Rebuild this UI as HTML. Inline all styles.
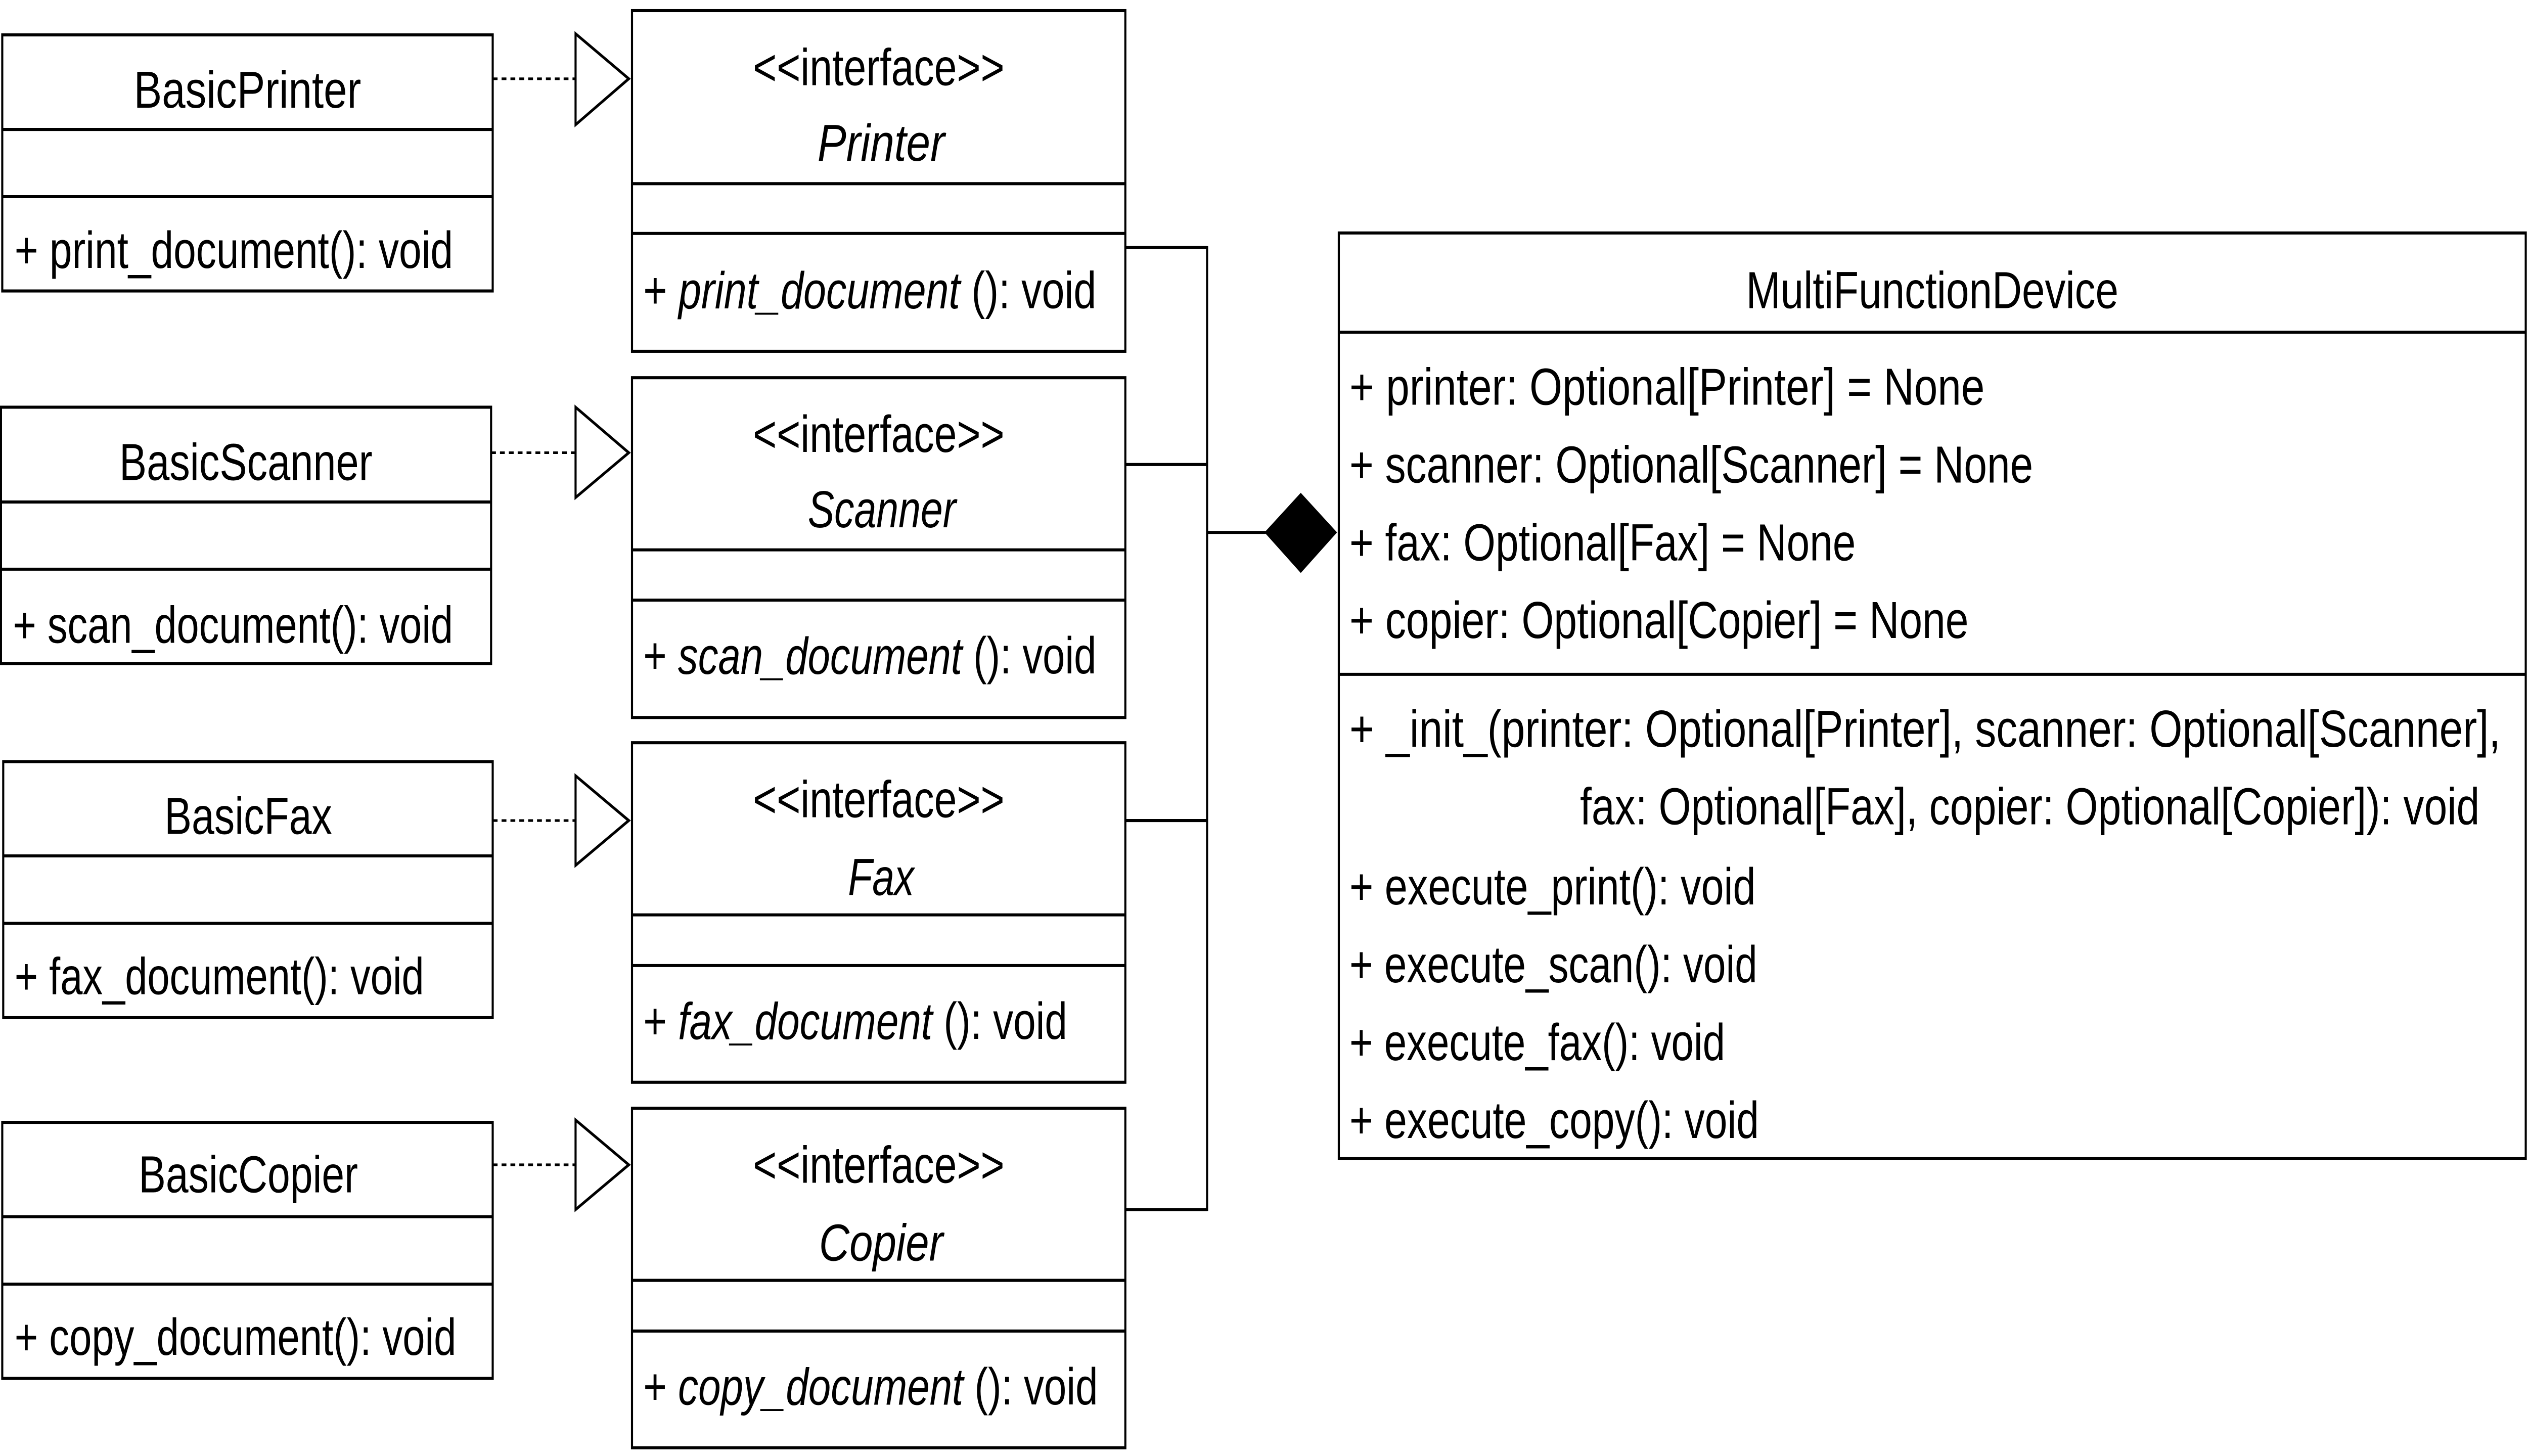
<!DOCTYPE html>
<html><head><meta charset="utf-8"><style>
html,body{margin:0;padding:0;background:#fff;width:100%;height:100%;overflow:hidden}
svg{display:block;position:fixed;left:0;top:0;width:100vw;height:100vh}
text{font-family:"Liberation Sans","Noto Sans CJK JP",sans-serif;font-size:22px;fill:#000}
.i{font-style:italic}
</style></head><body>
<svg viewBox="0 0 1568 617.5" preserveAspectRatio="none" xmlns="http://www.w3.org/2000/svg">
<g fill="#fff" stroke="#000" stroke-width="1.3">
<rect x="1.4" y="14.8" width="304.2" height="108.6"/>
<line x1="1.4" y1="54.9" x2="305.6" y2="54.9"/><line x1="1.4" y1="83.4" x2="305.6" y2="83.4"/>
<rect x="0.6" y="172.7" width="304" height="108.7"/>
<line x1="0.6" y1="212.9" x2="304.6" y2="212.9"/><line x1="0.6" y1="241.4" x2="304.6" y2="241.4"/>
<rect x="2" y="323" width="303.6" height="108.6"/>
<line x1="2" y1="363" x2="305.6" y2="363"/><line x1="2" y1="391.6" x2="305.6" y2="391.6"/>
<rect x="1.4" y="476" width="304.2" height="108.6"/>
<line x1="1.4" y1="516" x2="305.6" y2="516"/><line x1="1.4" y1="544.6" x2="305.6" y2="544.6"/>
<rect x="392" y="4.5" width="306" height="144.5"/>
<line x1="392" y1="77.9" x2="698" y2="77.9"/><line x1="392" y1="99" x2="698" y2="99"/>
<rect x="392" y="160.2" width="306" height="144.1"/>
<line x1="392" y1="233.2" x2="698" y2="233.2"/><line x1="392" y1="254.5" x2="698" y2="254.5"/>
<rect x="392" y="315" width="306" height="144"/>
<line x1="392" y1="388" x2="698" y2="388"/><line x1="392" y1="409.5" x2="698" y2="409.5"/>
<rect x="392" y="470" width="306" height="144"/>
<line x1="392" y1="543" x2="698" y2="543"/><line x1="392" y1="564.5" x2="698" y2="564.5"/>
<rect x="830.4" y="98.8" width="736.2" height="392.6"/>
<line x1="830.4" y1="140.9" x2="1566.6" y2="140.9"/><line x1="830.4" y1="286" x2="1566.6" y2="286"/>
<polygon points="357,14.3 390,33.4 357,52.9"/>
<polygon points="357,172.7 390,192 357,211"/>
<polygon points="357,329 390,348 357,367"/>
<polygon points="357,475 390,494 357,513"/>
</g>
<g stroke="#000" stroke-width="1.1" stroke-dasharray="3,2.5" fill="none">
<line x1="305.6" y1="33.4" x2="357" y2="33.4"/>
<line x1="304.6" y1="192" x2="357" y2="192"/>
<line x1="305.6" y1="348" x2="357" y2="348"/>
<line x1="305.6" y1="494" x2="357" y2="494"/>
</g>
<g stroke="#000" stroke-width="1.3" fill="none">
<line x1="698" y1="105" x2="748.7" y2="105"/>
<line x1="698" y1="197" x2="748.7" y2="197"/>
<line x1="698" y1="348" x2="748.7" y2="348"/>
<line x1="698" y1="513" x2="748.7" y2="513"/>
<line x1="748.7" y1="104.4" x2="748.7" y2="513.6"/>
<line x1="748.7" y1="225.8" x2="785" y2="225.8"/>
</g>
<polygon points="784.3,225.8 806.8,209 829.3,225.8 806.8,243" fill="#000"/>
<g dominant-baseline="central" text-anchor="start">
<text x="83" y="38" textLength="141" lengthAdjust="spacingAndGlyphs">BasicPrinter</text>
<text x="9" y="106" textLength="272" lengthAdjust="spacingAndGlyphs">+ print_document(): void</text>
<text x="74" y="196" textLength="157" lengthAdjust="spacingAndGlyphs">BasicScanner</text>
<text x="8" y="265" textLength="273" lengthAdjust="spacingAndGlyphs">+ scan_document(): void</text>
<text x="102" y="346" textLength="104" lengthAdjust="spacingAndGlyphs">BasicFax</text>
<text x="9" y="414" textLength="254" lengthAdjust="spacingAndGlyphs">+ fax_document(): void</text>
<text x="86" y="498" textLength="136" lengthAdjust="spacingAndGlyphs">BasicCopier</text>
<text x="9" y="567" textLength="274" lengthAdjust="spacingAndGlyphs">+ copy_document(): void</text>

<text x="467" y="28.5" textLength="156" lengthAdjust="spacingAndGlyphs">&lt;&lt;interface&gt;&gt;</text>
<text class="i" x="507" y="60.5" textLength="79" lengthAdjust="spacingAndGlyphs">Printer</text>
<text x="399" y="123" textLength="281" lengthAdjust="spacingAndGlyphs">+ <tspan class="i">print_document</tspan> (): void</text>
<text x="467" y="184" textLength="156" lengthAdjust="spacingAndGlyphs">&lt;&lt;interface&gt;&gt;</text>
<text class="i" x="501" y="216" textLength="92" lengthAdjust="spacingAndGlyphs">Scanner</text>
<text x="399" y="278" textLength="281" lengthAdjust="spacingAndGlyphs">+ <tspan class="i">scan_document</tspan> (): void</text>
<text x="467" y="339" textLength="156" lengthAdjust="spacingAndGlyphs">&lt;&lt;interface&gt;&gt;</text>
<text class="i" x="526" y="372" textLength="41" lengthAdjust="spacingAndGlyphs">Fax</text>
<text x="399" y="433" textLength="263" lengthAdjust="spacingAndGlyphs">+ <tspan class="i">fax_document</tspan> (): void</text>
<text x="467" y="494" textLength="156" lengthAdjust="spacingAndGlyphs">&lt;&lt;interface&gt;&gt;</text>
<text class="i" x="508" y="527" textLength="77" lengthAdjust="spacingAndGlyphs">Copier</text>
<text x="399" y="588" textLength="282" lengthAdjust="spacingAndGlyphs">+ <tspan class="i">copy_document</tspan> (): void</text>

<text x="1083" y="123" textLength="231" lengthAdjust="spacingAndGlyphs">MultiFunctionDevice</text>
<text x="837" y="164" textLength="394" lengthAdjust="spacingAndGlyphs">+ printer: Optional[Printer] = None</text>
<text x="837" y="197" textLength="424" lengthAdjust="spacingAndGlyphs">+ scanner: Optional[Scanner] = None</text>
<text x="837" y="230" textLength="314" lengthAdjust="spacingAndGlyphs">+ fax: Optional[Fax] = None</text>
<text x="837" y="263" textLength="384" lengthAdjust="spacingAndGlyphs">+ copier: Optional[Copier] = None</text>
<text x="837" y="309" textLength="714" lengthAdjust="spacingAndGlyphs">+ _init_(printer: Optional[Printer], scanner: Optional[Scanner],</text>
<text x="980" y="342" textLength="558" lengthAdjust="spacingAndGlyphs">fax: Optional[Fax], copier: Optional[Copier]): void</text>
<text x="837" y="376" textLength="252" lengthAdjust="spacingAndGlyphs">+ execute_print(): void</text>
<text x="837" y="409" textLength="253" lengthAdjust="spacingAndGlyphs">+ execute_scan(): void</text>
<text x="837" y="442" textLength="233" lengthAdjust="spacingAndGlyphs">+ execute_fax(): void</text>
<text x="837" y="475" textLength="254" lengthAdjust="spacingAndGlyphs">+ execute_copy(): void</text>
</g>
</svg>
</body></html>
